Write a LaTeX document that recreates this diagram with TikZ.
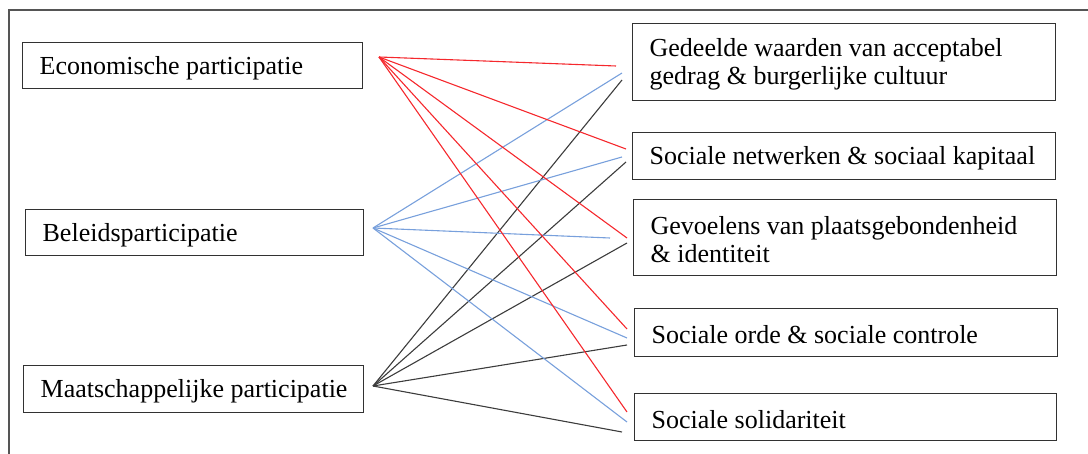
\documentclass[tikz,border=0pt]{standalone}
\usepackage{fontspec}
\setmainfont{Liberation Serif}
\definecolor{framegray}{RGB}{85,85,85}
\definecolor{boxgray}{RGB}{50,50,50}
\definecolor{linered}{RGB}{245,40,45}
\definecolor{lineblue}{RGB}{120,160,220}
\definecolor{lineblack}{RGB}{60,60,60}
\newcommand{\dnline}[1]{\raisebox{-2.2pt}[\height][\depth]{#1}}
\tikzset{
  txtbox/.style={draw=boxgray, line width=1.3pt, anchor=north west, inner xsep=17pt, inner ysep=0pt,
    align=flush left, font=\fontsize{26}{28.5}\selectfont},
  redline/.style={draw=linered, line width=1.1pt},
  blueline/.style={draw=lineblue, line width=1.1pt},
  blackline/.style={draw=lineblack, line width=1.1pt}
}
\begin{document}
\begin{tikzpicture}[x=1pt,y=-1pt]
\useasboundingbox (0,0) rectangle (1088,454);
\draw[framegray, line width=2pt] (9,454) -- (9,10) -- (1088,10);

% left boxes
\node[txtbox, text width=306pt, minimum height=46pt] (eco) at (22,42) {\dnline{Economische participatie}};
\node[txtbox, text width=304pt, minimum height=46pt] (bel) at (25,209) {\dnline{Beleidsparticipatie}};
\node[txtbox, text width=306pt, minimum height=47pt] (maa) at (23,365) {\dnline{Maatschappelijke participatie}};

% right boxes
\node[txtbox, text width=389pt, minimum height=77pt] (ged) at (632,23) {\dnline{Gedeelde waarden van acceptabel}\\\dnline{gedrag \& burgerlijke cultuur}};
\node[txtbox, text width=389pt, minimum height=47pt] (soc) at (632,132) {\dnline{Sociale netwerken \& sociaal kapitaal}};
\node[txtbox, text width=389pt, minimum height=76pt] (gev) at (633,199) {\dnline{Gevoelens van plaatsgebondenheid}\\\dnline{\& identiteit}};
\node[txtbox, text width=389pt, minimum height=48pt] (ord) at (634,308) {\dnline{Sociale orde \& sociale controle}};
\node[txtbox, text width=388pt, minimum height=47pt] (sol) at (634,393) {\dnline{Sociale solidariteit}};

% line origins
\coordinate (oR) at (379,57);
\coordinate (oB) at (373,228);
\coordinate (oK) at (373,386);

% line ends
\coordinate (r1) at (616,66);  \coordinate (b1) at (622,73);  \coordinate (k1) at (622,80);
\coordinate (r2) at (626,149); \coordinate (b2) at (622,157); \coordinate (k2) at (626,162);
\coordinate (r3) at (627,238); \coordinate (b3) at (610,238); \coordinate (k3) at (627,243);
\coordinate (r4) at (627,329); \coordinate (b4) at (627,338); \coordinate (k4) at (627,345);
\coordinate (r5) at (627,412); \coordinate (b5) at (627,422); \coordinate (k5) at (622,432);

\foreach \i in {1,...,5} {
  \draw[blackline] (oK) -- (k\i);
  \draw[blueline] (oB) -- (b\i);
  \draw[redline] (oR) -- (r\i);
}
\end{tikzpicture}
\end{document}
